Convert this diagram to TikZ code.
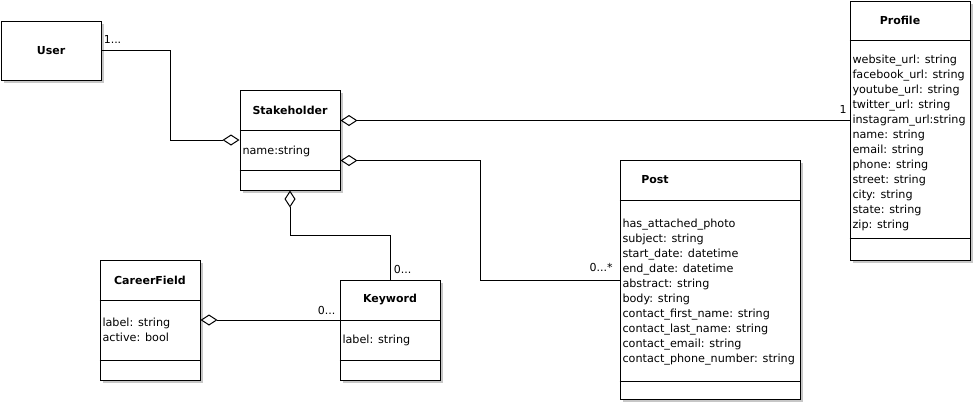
\documentclass[tikz,border=0pt]{standalone}
\usepackage{fontspec}
\setmainfont{DejaVu Sans}
\usetikzlibrary{arrows.meta, shadows}

\begin{document}
\begin{tikzpicture}[
                x = 1pt, y = -1pt, % pixel-like grid, y pointing down
                line width = 1pt,
                agg/.style = {{Diamond[open, length=17pt, width=11pt]}-}, % aggregation end
                classbox/.style = {draw = black, fill = white, inner sep = 0pt,
                    drop shadow = {shadow xshift=3pt, shadow yshift=-3pt,
                    fill=black!22, opacity=1}},
                title/.style = {font = \fontsize{11}{13}\selectfont\bfseries, inner sep = 0pt},
                attr/.style = {font = \fontsize{11.2}{15}\selectfont, align = left,
                    anchor = north west, inner sep = 0pt},
                mult/.style = {font = \fontsize{11}{12}\selectfont, inner sep = 0pt}
            ]

            \useasboundingbox (0,0) rectangle (975,405);

            % class boxes
            \node[classbox, minimum width = 100pt, minimum height = 59pt] (user) at (51,50.5) {};
            \node[classbox, minimum width = 100pt, minimum height = 100pt] (stake) at (290,140) {};
            \node[classbox, minimum width = 120pt, minimum height = 259pt] (profile) at (910,130.5) {};
            \node[classbox, minimum width = 180pt, minimum height = 239pt] (post) at (710,279.5) {};
            \node[classbox, minimum width = 100pt, minimum height = 120pt] (career) at (150,320) {};
            \node[classbox, minimum width = 100pt, minimum height = 100pt] (keyword) at (390,330) {};

            % compartments
            \foreach \n/\h in {stake/130, stake/170, profile/40.5, profile/238.5,
                post/200.5, post/381, career/300, career/360, keyword/320, keyword/360}
                \draw (\n.west |- 0,\h) -- (\n.east |- 0,\h);

            % names
            \node[title] (user-name) at (51,50.5) {User};
            \node[title] (stake-name) at (290,110) {Stakeholder};
            \node[title] (profile-name) at (900,20) {Profile};
            \node[title] (post-name) at (655,180) {Post};
            \node[title] (career-name) at (150,280) {CareerField};
            \node[title] (keyword-name) at (390,300) {Keyword};

            % attributes
            \node[attr] (stake-attr) at (242,145.5) {name:string};
            \node[attr] (profile-attr) at (852,54) {website\_url: string\\
                facebook\_url: string\\ youtube\_url: string\\ twitter\_url: string\\
                instagram\_url:string\\ name: string\\ email: string\\ phone: string\\
                street: string\\ city: string\\ state: string\\ zip: string};
            \node[attr] (post-attr) at (622,218) {has\_attached\_photo\\ subject: string\\
                start\_date: datetime\\ end\_date: datetime\\ abstract: string\\
                body: string\\ contact\_first\_name: string\\ contact\_last\_name: string\\
                contact\_email: string\\ contact\_phone\_number: string};
            \node[attr] (career-attr) at (102,317) {label: string\\ active: bool};
            \node[attr] (keyword-attr) at (342,334.5) {label: string};

            % associations
            \draw[agg] (stake.west) -| (170,50.5) -- (user.east);
            \draw[agg] (stake.east |- 0,120.5) -- (profile.west |- 0,120.5);
            \draw[agg] (stake.east |- 0,160.5) -| (480.5,280.5) -- (post.west |- 0,280.5);
            \draw[agg] (stake.south) -- (290,235.5) -| (keyword.north);
            \draw[agg] (career.east) -- (keyword.west |- career.east);

            % multiplicities
            \node[mult] (m-user) at (112.5,39) {1...};
            \node[mult] (m-profile) at (843,109) {1};
            \node[mult] (m-post) at (601,267) {0...*};
            \node[mult] (m-kw-top) at (402.5,269) {0...};
            \node[mult] (m-kw-left) at (326.5,310) {0...};

        \end{tikzpicture}
\end{document}
